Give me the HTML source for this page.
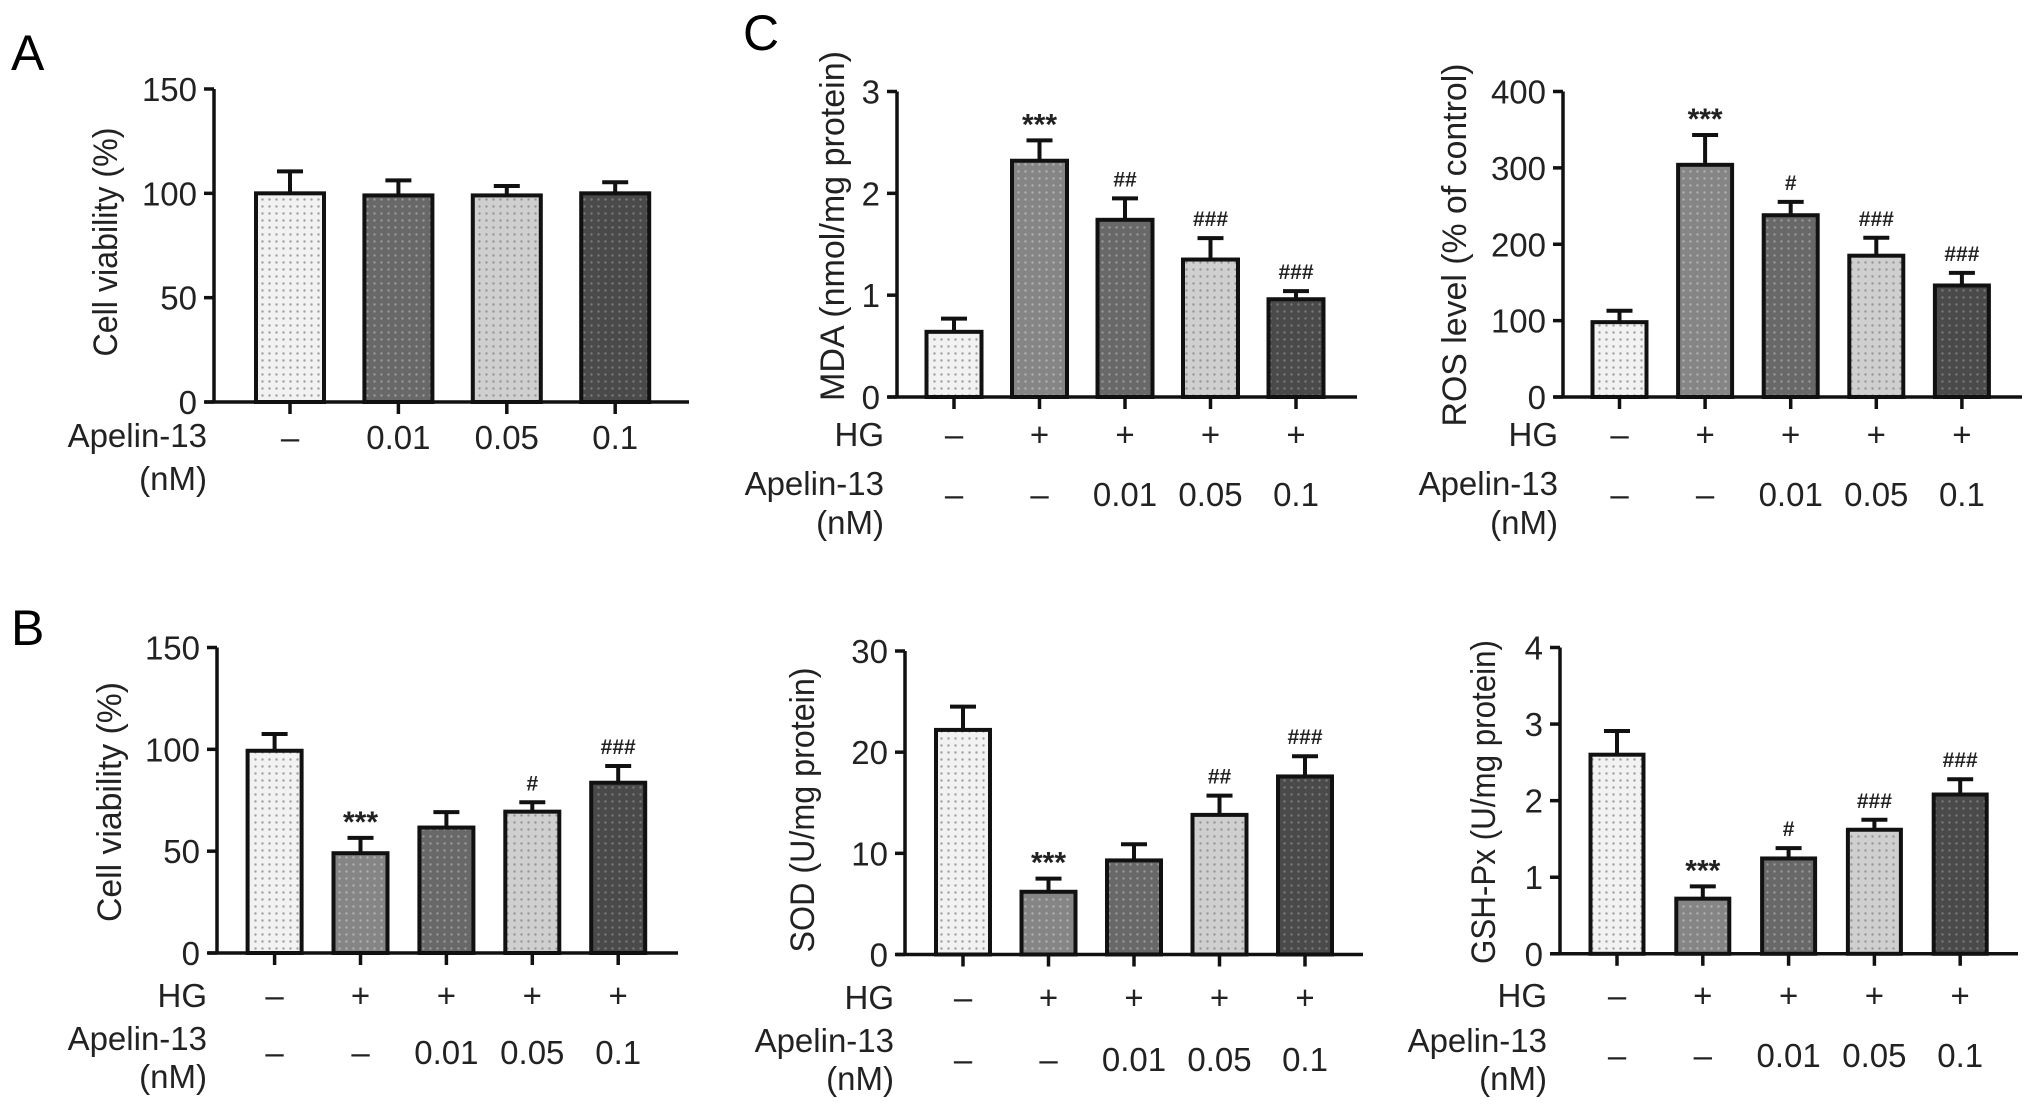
<!DOCTYPE html>
<html><head><meta charset="utf-8"><style>
html,body{margin:0;padding:0;background:#fff;}
svg{display:block;font-family:"Liberation Sans",Arial,sans-serif;}
</style></head><body>
<svg id="fig" width="2032" height="1107" viewBox="0 0 2032 1107" xmlns="http://www.w3.org/2000/svg">
<defs>
<pattern id="p0" width="7" height="7" patternUnits="userSpaceOnUse"><rect width="7" height="7" fill="#f2f2f2"/><circle cx="3.5" cy="3.5" r="1.2" fill="#a0a0a0"/></pattern>
<pattern id="p1" width="7" height="7" patternUnits="userSpaceOnUse"><rect width="7" height="7" fill="#858585"/><circle cx="3.5" cy="3.5" r="1.2" fill="#b0b0b0"/></pattern>
<pattern id="p2" width="7" height="7" patternUnits="userSpaceOnUse"><rect width="7" height="7" fill="#686868"/><circle cx="3.5" cy="3.5" r="1.2" fill="#999"/></pattern>
<pattern id="p3" width="7" height="7" patternUnits="userSpaceOnUse"><rect width="7" height="7" fill="#cfcfcf"/><circle cx="3.5" cy="3.5" r="1.2" fill="#969696"/></pattern>
<pattern id="p4" width="7" height="7" patternUnits="userSpaceOnUse"><rect width="7" height="7" fill="#4a4a4a"/><circle cx="3.5" cy="3.5" r="1.2" fill="#7a7a7a"/></pattern>
</defs>
<text x="11" y="70" font-size="50">A</text>
<text x="11" y="645" font-size="50">B</text>
<text x="743" y="50" font-size="50">C</text>
</svg>
<script>
// Panel A
const aValues = [100, 99, 99, 100];
const aErrors = [110.5, 106.2, 103.5, 105.3];
const aDoses = ["–", "0.01", "0.05", "0.1"];
const aTicks = [0, 50, 100, 150];
// Panel B
const bValues = [99.3, 49, 61.6, 69.4, 83.6];
const bErrors = [107.5, 56.5, 69.2, 74, 91.8];
const bTicks = [0, 50, 100, 150];
// MDA
const mdaValues = [0.64, 2.32, 1.74, 1.35, 0.96];
const mdaErrors = [0.77, 2.52, 1.95, 1.56, 1.04];
const mdaTicks = [0, 1, 2, 3];
// ROS
const rosValues = [98, 304, 238, 185, 146];
const rosErrors = [113, 343, 255.5, 208.5, 162.6];
const rosTicks = [0, 100, 200, 300, 400];
// SOD
const sodValues = [22.2, 6.2, 9.3, 13.8, 17.6];
const sodErrors = [24.5, 7.5, 10.9, 15.7, 19.6];
const sodTicks = [0, 10, 20, 30];
// GSH-Px
const gshValues = [2.6, 0.72, 1.245, 1.62, 2.08];
const gshErrors = [2.91, 0.88, 1.38, 1.75, 2.28];
const gshTicks = [0, 1, 2, 3, 4];

const hgRow = ["–", "+", "+", "+", "+"];
const doseRow = ["–", "–", "0.01", "0.05", "0.1"];
const mdaAnnot = ["", "***", "##", "###", "###"];
const rosAnnot = ["", "***", "#", "###", "###"];
const bAnnot = ["", "***", "", "#", "###"];
const sodAnnot = ["", "***", "", "##", "###"];
const gshAnnot = ["", "***", "#", "###", "###"];

const NS = "http://www.w3.org/2000/svg";
const svg = document.getElementById("fig");
function mk(tag, attrs, parent) {
  const e = document.createElementNS(NS, tag);
  for (const k in attrs) e.setAttribute(k, attrs[k]);
  (parent || svg).appendChild(e);
  return e;
}
function txt(s, attrs, parent) { const t = mk("text", attrs, parent); t.textContent = s; return t; }

function chart(c) {
  const g = mk("g", {});
  
  
  const max = c.ticks[c.ticks.length - 1];
  const y = v => c.y0 - (v / max) * (c.y0 - c.yTop);
  const xc = i => c.x0c + i * c.step;
  c.values.forEach((v, i) => {
    const r = mk("rect", {x: xc(i) - c.bw / 2, y: y(v), width: c.bw, height: c.y0 - y(v), fill: "url(#p" + c.patterns[i] + ")", stroke: "#111", "stroke-width": 4}, g);
    
    
    const e = mk("path", {d: `M${xc(i)},${y(v)} V${y(c.errors[i])} M${xc(i) - 13},${y(c.errors[i])} H${xc(i) + 13}`, stroke: "#111", "stroke-width": 4, fill: "none"}, g);
    
    
    if (c.annot && c.annot[i]) {
      const big = c.annot[i].indexOf("*") >= 0;
      const a = txt(c.annot[i], {x: xc(i), y: y(c.errors[i]) - (big ? 6 : 12), "font-size": big ? 30 : 21, "font-weight": "bold", "text-anchor": "middle", fill: "#222"}, g);
      
      
    }
    const tk = mk("line", {x1: xc(i), x2: xc(i), y1: c.y0, y2: c.y0 + 12, stroke: "#111", "stroke-width": 3.5}, g);
    
    
  });
  const ax = mk("path", {d: `M${c.ax},${c.yTop} V${c.y0} M${c.ax - 9},${c.y0} H${c.axR}`, stroke: "#111", "stroke-width": 3.5, fill: "none"}, g);
  
  
  c.ticks.forEach(t => {
    const l = mk("line", {x1: c.ax - 10, x2: c.ax, y1: y(t), y2: y(t), stroke: "#111", "stroke-width": 3.5}, g);
    
    
    const tl = txt(String(t), {x: c.ax - 17, y: y(t) + 12, "font-size": 33, "text-anchor": "end", fill: "#222"}, g);
    
    
  });
  const tt = txt(c.title, {x: 0, y: 0, "font-size": 34, "text-anchor": "middle", "dominant-baseline": "central", fill: "#222", textLength: c.tl, lengthAdjust: "spacingAndGlyphs", transform: `translate(${c.tx},${c.ty}) rotate(-90)`}, g);
  
  
  if (c.hgY) {
    const hl = txt("HG", {x: c.lx, y: c.hgY + 12, "font-size": 33, "text-anchor": "end", fill: "#222"}, g);
    
    
    hgRow.forEach((s, i) => {
      const h = txt(s, {x: xc(i), y: c.hgY + 12, "font-size": 33, "text-anchor": "middle", fill: "#222"}, g);
      
      
    });
  }
  const al = txt("Apelin-13", {x: c.lx, y: c.apY + 12, "font-size": 33, "text-anchor": "end", fill: "#222"}, g);
  
  
  const nl = txt("(nM)", {x: c.lx, y: c.nmY + 12, "font-size": 33, "text-anchor": "end", fill: "#222"}, g);
  
  
  c.doses.forEach((s, i) => {
    const d = txt(s, {x: xc(i), y: c.dvY + 12, "font-size": 33, "text-anchor": "middle", fill: "#222"}, g);
    
    
  });
}

chart({name: "panel-a-chart", values: aValues, errors: aErrors, ticks: aTicks, doses: aDoses, patterns: [0, 2, 3, 4],
  ax: 214, axR: 689, y0: 402, yTop: 89, x0c: 290, step: 108.4, bw: 68, title: "Cell viability (%)", tl: 229, tx: 106, ty: 242,
  lx: 207, apY: 435, dvY: 437, nmY: 478});
chart({name: "panel-b-chart", values: bValues, errors: bErrors, ticks: bTicks, doses: doseRow, patterns: [0, 1, 2, 3, 4], annot: bAnnot,
  ax: 217, axR: 678, y0: 953, yTop: 647.5, x0c: 274.6, step: 85.9, bw: 54, title: "Cell viability (%)", tl: 240, tx: 110, ty: 802,
  lx: 207, hgY: 995, apY: 1038, dvY: 1052, nmY: 1076});
chart({name: "mda-chart", values: mdaValues, errors: mdaErrors, ticks: mdaTicks, doses: doseRow, patterns: [0, 1, 2, 3, 4], annot: mdaAnnot,
  ax: 897, axR: 1357, y0: 397, yTop: 91.5, x0c: 954, step: 85.5, bw: 55, title: "MDA (nmol/mg protein)", tl: 350, tx: 833, ty: 226,
  lx: 884, hgY: 434, apY: 483, dvY: 494, nmY: 522});
chart({name: "ros-chart", values: rosValues, errors: rosErrors, ticks: rosTicks, doses: doseRow, patterns: [0, 1, 2, 3, 4], annot: rosAnnot,
  ax: 1563, axR: 2022, y0: 397, yTop: 91.5, x0c: 1619.5, step: 85.6, bw: 54, title: "ROS level (% of control)", tl: 363, tx: 1455, ty: 245,
  lx: 1558, hgY: 434, apY: 483, dvY: 494, nmY: 522});
chart({name: "sod-chart", values: sodValues, errors: sodErrors, ticks: sodTicks, doses: doseRow, patterns: [0, 1, 2, 3, 4], annot: sodAnnot,
  ax: 905, axR: 1363, y0: 954.5, yTop: 651, x0c: 963, step: 85.5, bw: 54, title: "SOD (U/mg protein)", tl: 285, tx: 803, ty: 810,
  lx: 894, hgY: 997, apY: 1040, dvY: 1059, nmY: 1078});
chart({name: "gsh-px-chart", values: gshValues, errors: gshErrors, ticks: gshTicks, doses: doseRow, patterns: [0, 1, 2, 3, 4], annot: gshAnnot,
  ax: 1560, axR: 2018, y0: 953.8, yTop: 647.5, x0c: 1617, step: 85.8, bw: 53, title: "GSH-Px (U/mg protein)", tl: 324, tx: 1484, ty: 802,
  lx: 1547, hgY: 995, apY: 1040, dvY: 1055, nmY: 1078});
</script>
</body></html>
